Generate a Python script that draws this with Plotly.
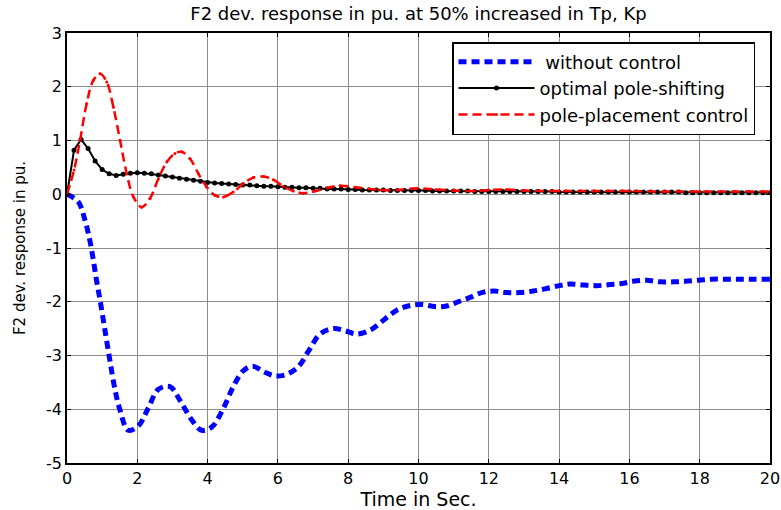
import plotly.graph_objects as go

# ---- data ----
t_blue = [0, 0.32, 0.51, 0.65, 0.75, 0.84, 0.94, 1.08, 1.22, 1.37, 1.51, 1.74, 2.03, 2.31, 2.6, 2.93,
          3.21, 3.55, 3.83, 4.12, 4.45, 4.73, 5.02, 5.28, 5.59, 5.92, 6.25, 6.58, 6.87, 7.2, 7.58, 7.91,
          8.24, 8.62, 8.9, 9.14, 9.43, 9.76, 10.09, 10.47, 10.8, 11.13, 11.47, 11.8, 12.15, 12.51, 12.89,
          13.27, 13.6, 14.0, 14.31, 14.69, 15.07, 15.45, 15.78, 16.1, 16.49, 16.87, 17.25, 17.58, 17.96,
          18.34, 18.72, 19.1, 19.5, 20]
v_blue = [0, -0.14, -0.48, -0.86, -1.23, -1.6, -1.97, -2.53, -3.09, -3.65, -4.02, -4.39, -4.31, -3.98,
          -3.63, -3.58, -3.83, -4.2, -4.39, -4.33, -3.98, -3.58, -3.28, -3.2, -3.3, -3.38, -3.35, -3.21,
          -2.92, -2.6, -2.5, -2.54, -2.6, -2.53, -2.4, -2.27, -2.14, -2.07, -2.05, -2.09, -2.08, -2.0,
          -1.92, -1.83, -1.8, -1.83, -1.83, -1.8, -1.76, -1.7, -1.67, -1.69, -1.7, -1.68, -1.66, -1.62,
          -1.6, -1.63, -1.63, -1.62, -1.6, -1.58, -1.58, -1.58, -1.58, -1.58]

t_black = [round(0.2 * i, 1) for i in range(101)]
v_black = [0, 0.82, 1.02, 0.85, 0.62, 0.46, 0.38, 0.35, 0.37, 0.39,
           0.40, 0.39, 0.38, 0.36, 0.34, 0.32, 0.30, 0.28, 0.26, 0.24,
           0.22, 0.21, 0.20, 0.19, 0.18, 0.17, 0.17, 0.16, 0.15, 0.15,
           0.14, 0.13, 0.13, 0.12, 0.12, 0.11, 0.11, 0.10, 0.10, 0.10,
           0.09, 0.09, 0.08, 0.08, 0.08, 0.08, 0.07, 0.07, 0.07, 0.07,
           0.07, 0.07, 0.06, 0.06, 0.06, 0.06, 0.06, 0.06, 0.05, 0.05,
           0.05, 0.05, 0.05, 0.05, 0.05, 0.05, 0.05, 0.05, 0.05, 0.05,
           0.04, 0.04, 0.04, 0.04, 0.04, 0.04, 0.04, 0.04, 0.04, 0.04,
           0.04, 0.04, 0.04, 0.04, 0.04, 0.04, 0.04, 0.04, 0.03, 0.03,
           0.03, 0.03, 0.03, 0.03, 0.03, 0.03, 0.03, 0.03, 0.03, 0.03, 0.03]

t_red = [0, 0.2, 0.37, 0.56, 0.75, 0.94, 1.13, 1.32, 1.51, 1.7, 1.89, 2.12, 2.36, 2.6, 2.84, 3.07,
         3.26, 3.5, 3.74, 3.97, 4.21, 4.45, 4.73, 5.02, 5.3, 5.59, 5.87, 6.15, 6.44, 6.72, 7.01, 7.4,
         7.77, 8.2, 8.9, 9.4, 9.95, 10.5, 11.0, 11.6, 12.0, 12.5, 13.0, 14, 15, 16, 17, 18, 19, 20]
v_red = [0, 0.45, 1.0, 1.69, 2.12, 2.24, 2.09, 1.62, 1.0, 0.38, -0.05, -0.24, -0.08, 0.29, 0.6, 0.76,
         0.79, 0.66, 0.38, 0.14, -0.02, -0.05, 0.04, 0.2, 0.31, 0.33, 0.27, 0.15, 0.06, 0.02, 0.05, 0.12,
         0.16, 0.13, 0.08, 0.08, 0.11, 0.09, 0.07, 0.06, 0.08, 0.09, 0.07, 0.06, 0.06, 0.06, 0.05, 0.05,
         0.05, 0.05]

x_ticks = [0, 2, 4, 6, 8, 10, 12, 14, 16, 18, 20]
y_ticks = [3, 2, 1, 0, -1, -2, -3, -4, -5]
y_ticktext = ["3", "2", "1", "0", "-1", "-2", "-3", "-4", "-5"]

FONT = "DejaVu Sans, Liberation Sans, Arial, sans-serif"

fig = go.Figure()
fig.add_trace(go.Scatter(x=t_blue, y=v_blue, mode="lines", name=" without control",
                         line=dict(color="#0000ff", width=5, dash="8px,5px", shape="spline")))
fig.add_trace(go.Scatter(x=t_black, y=v_black, mode="lines+markers", name="optimal pole-shifting",
                         line=dict(color="#000000", width=2),
                         marker=dict(color="#000000", size=5)))
fig.add_trace(go.Scatter(x=t_red, y=v_red, mode="lines+markers", name="pole-placement control",
                         line=dict(color="#ff0000", width=2.5, dash="9px,5px", shape="spline"),
                         marker=dict(color="#ff0000", size=3)))

axis_common = dict(showline=True, linecolor="black", linewidth=1.5, mirror="ticks",
                   ticks="inside", ticklen=4, tickcolor="black", automargin=False,
                   showgrid=True, gridcolor="#8c8c8c", gridwidth=1, zeroline=False,
                   tickfont=dict(family=FONT, size=16, color="black"))

fig.update_layout(
    width=781, height=510,
    margin=dict(l=67, r=11, t=33, b=47),
    paper_bgcolor="white", plot_bgcolor="white",
    title=dict(text="F2 dev. response in pu. at 50% increased in Tp, Kp",
               x=(67 + 770) / 2 / 781, xanchor="center", y=1 - 14 / 510, yanchor="middle",
               font=dict(family=FONT, size=18, color="black")),
    xaxis=dict(range=[0, 20], tickvals=x_ticks,
               title=dict(text="Time in Sec.", font=dict(family=FONT, size=19, color="black"), standoff=2),
               **axis_common),
    yaxis=dict(range=[-5, 3], tickvals=y_ticks, ticktext=y_ticktext,
               title=dict(text="F2 dev. response in pu.", font=dict(family=FONT, size=15, color="black"), standoff=17),
               **axis_common),
    legend=dict(x=(755 - 67) / 703, y=(463 - 42) / 430, xanchor="right", yanchor="top",
                bgcolor="white", bordercolor="black", borderwidth=1.5,
                font=dict(family=FONT, size=18, color="black"),
                itemwidth=76, tracegroupgap=0),
    showlegend=True,
)

fig.write_html("out.html", config={"displayModeBar": False},
               post_script="document.body.style.margin='0';")
